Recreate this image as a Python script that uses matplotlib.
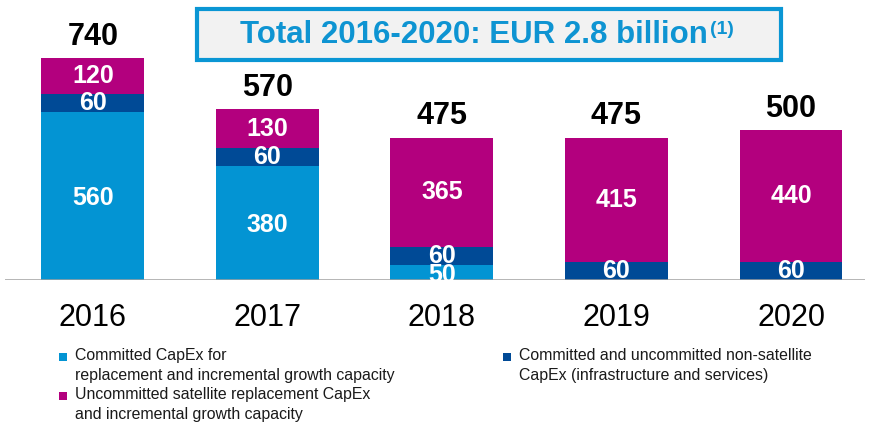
import matplotlib
matplotlib.use("Agg")
import matplotlib.pyplot as plt
from matplotlib.patches import Rectangle

plt.rcParams['font.family'] = ['Liberation Sans', 'DejaVu Sans']

years = ["2016", "2017", "2018", "2019", "2020"]
committed = [560, 380, 50, 0, 0]
non_satellite = [60, 60, 60, 60, 60]
uncommitted = [120, 130, 365, 415, 440]
totals = [740, 570, 475, 475, 500]

title_main = "Total 2016-2020: EUR 2.8 billion"
title_sup = "(1)"

legend_labels = [
    "Committed CapEx for\nreplacement and incremental growth capacity",
    "Uncommitted satellite replacement CapEx\nand incremental growth capacity",
    "Committed and uncommitted non-satellite\nCapEx (infrastructure and services)",
]

C_LIGHT = "#0394D3"
C_DARK = "#004A96"
C_MAG = "#B3007E"

W, H = 869, 422
fig = plt.figure(figsize=(W / 100, H / 100), dpi=100)

# axes: x pixels 5..865, y pixels 0..280 (from top)
ax = fig.add_axes([5 / W, (H - 280) / H, 860 / W, 280 / H])
ax.set_xlim(-0.504, 4.424)
ax.set_ylim(0, 280 / 0.3)
for s in ax.spines.values():
    s.set_visible(False)
ax.set_xticks([])
ax.set_yticks([])
ax.patch.set_alpha(0)

x = list(range(len(years)))
bw = 0.59
ax.bar(x, committed, width=bw, color=C_LIGHT, linewidth=0)
ax.bar(x, non_satellite, width=bw, bottom=committed, color=C_DARK, linewidth=0)
bottoms3 = [c + n for c, n in zip(committed, non_satellite)]
ax.bar(x, uncommitted, width=bw, bottom=bottoms3, color=C_MAG, linewidth=0)

ax.axhline(0, color="#A0A0A0", linewidth=1.8, zorder=5)

for i in x:
    if committed[i] > 0:
        ax.text(i, committed[i] / 2 - 8, f"{committed[i]}", ha="center", va="center",
                color="white", fontsize=18, fontweight="bold", zorder=6)
    ax.text(i, committed[i] + non_satellite[i] / 2, f"{non_satellite[i]}", ha="center",
            va="center", color="white", fontsize=18, fontweight="bold", zorder=6)
    ax.text(i, bottoms3[i] + uncommitted[i] / 2, f"{uncommitted[i]}", ha="center",
            va="center", color="white", fontsize=18, fontweight="bold", zorder=6)
    ax.text(i, totals[i] + 70, f"{totals[i]}", ha="center", va="center",
            color="black", fontsize=22, fontweight="bold")
    ax.text(i, -125, years[i], ha="center", va="center", color="black", fontsize=22)

# title box
box = Rectangle((197 / W, 1 - 60 / H), (781 - 197) / W, 51 / H, transform=fig.transFigure,
                facecolor="#F2F2F2", edgecolor="#0A96D4", linewidth=3)
fig.patches.append(box)
t = fig.text(240 / W, 1 - 35 / H, title_main, ha="left", va="center",
             color="#0E94D2", fontsize=22.5, fontweight="bold")
fig.canvas.draw()
bb = t.get_window_extent()
fig.text((bb.x1 + 2) / W, 1 - 29 / H, title_sup, ha="left", va="center",
         color="#0E94D2", fontsize=14, fontweight="bold")

# legend
leg_pos = [(63, 357), (63, 396), (507, 357)]
leg_cols = [C_LIGHT, C_MAG, C_DARK]
for (px, py), col, lab in zip(leg_pos, leg_cols, legend_labels):
    fig.patches.append(Rectangle(((px - 4) / W, 1 - (py + 4) / H), 8 / W, 8 / H,
                                 transform=fig.transFigure, facecolor=col, edgecolor="none"))
    fig.text((px + 12) / W, 1 - (py - 9) / H, lab, ha="left", va="top", color="#1A1A1A",
             fontsize=11.4, linespacing=1.45)

fig.savefig("out.png", dpi=100)
